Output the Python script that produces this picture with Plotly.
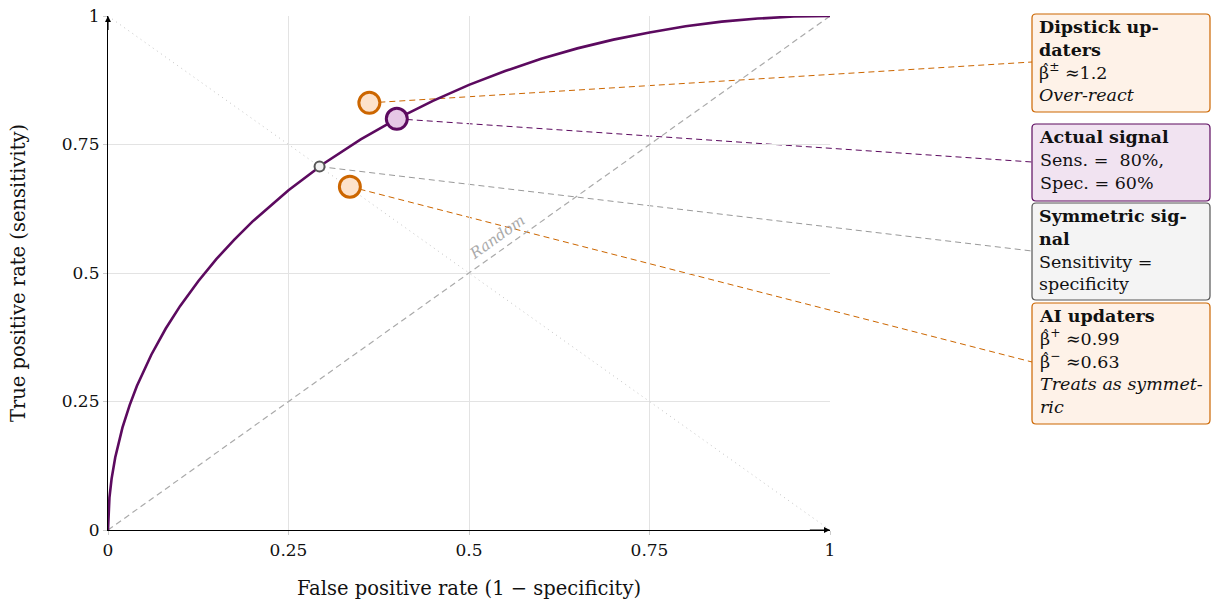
import plotly.graph_objects as go

# ---------------- data ----------------
roc_fpr = [0, 0.002, 0.005, 0.01, 0.02, 0.03, 0.04, 0.06, 0.08, 0.1, 0.125, 0.15, 0.175, 0.2, 0.25,
           0.3, 0.35, 0.4, 0.45, 0.5, 0.55, 0.6, 0.65, 0.7, 0.75, 0.8, 0.85, 0.9, 0.95, 1.0]
roc_tpr = [0, 0.063, 0.100, 0.141, 0.199, 0.243, 0.280, 0.341, 0.392, 0.436, 0.484, 0.527, 0.565, 0.600, 0.661,
           0.714, 0.760, 0.800, 0.835, 0.866, 0.893, 0.917, 0.937, 0.954, 0.968, 0.980, 0.989, 0.995, 0.999, 1.0]

point_names = ["Dipstick updaters", "Actual signal", "Symmetric signal", "AI updaters"]
point_fpr = [0.362, 0.40, 0.293, 0.335]
point_tpr = [0.831, 0.80, 0.707, 0.668]

tick_vals = [0, 0.25, 0.5, 0.75, 1]
tick_text = ["0", "0.25", "0.5", "0.75", "1"]

box_texts = [
    "<b>Dipstick up-</b><br><b>daters</b><br>β<sup>±</sup> ≈1.2<br><i>Over-react</i>",
    "<b>Actual signal</b><br>Sens. =  80%,<br>Spec. = 60%",
    "<b>Symmetric sig-</b><br><b>nal</b><br>Sensitivity =<br>specificity",
    "<b>AI updaters</b><br>β<sup>+</sup> ≈0.99<br>β<sup>−</sup> ≈0.63<br><i>Treats as symmet-</i><br><i>ric</i>",
]
# (box index, line index) of each estimated β that carries a hat
beta_hats = [(0, 2), (3, 1), (3, 2)]

# ---------------- styles ----------------
PURPLE = "#5c0a5f"
ORANGE = "#cc6600"
GRAY = "#555555"
FONT = "DejaVu Serif"
BOX_FS = 17.5
LINE_H = 1.3 * BOX_FS

marker_fill = ["#fde2cb", "#e6c8e6", "#f2f2f2", "#fde2cb"]
marker_line = [ORANGE, PURPLE, GRAY, ORANGE]
marker_size = [21, 21, 10, 21]
marker_lw = [3, 3, 2, 3]
conn_color = [ORANGE, PURPLE, "#999999", ORANGE]
box_fill = ["#fef2e8", "#f1e3f1", "#f4f4f4", "#fef2e8"]
box_line = [ORANGE, PURPLE, GRAY, ORANGE]

# plot area pixels: x 108..830, y 16..530
L, R, T, B = 108, 830, 16, 530
W, H = R - L, B - T


def px2x(p):
    return (p - L) / W


def px2y(p):
    return (B - p) / H


box_px = [(14, 112), (124, 201), (203, 300), (303, 424)]
conn_end_py = [62, 162, 251, 362]
bx0, bx1 = px2x(1032), px2x(1210)
text_top_off = 1

fig = go.Figure()

# diagonal (random) and anti-diagonal
fig.add_trace(go.Scatter(x=[0, 1], y=[0, 1], mode="lines",
                         line=dict(color="#aaaaaa", width=1.2, dash="6px,4px"),
                         hoverinfo="skip", showlegend=False))
fig.add_trace(go.Scatter(x=[0, 1], y=[1, 0], mode="lines",
                         line=dict(color="#c4c4c4", width=1, dash="1px,4px"),
                         hoverinfo="skip", showlegend=False))

# ROC curve
fig.add_trace(go.Scatter(x=roc_fpr, y=roc_tpr, mode="lines",
                         line=dict(color=PURPLE, width=2.6),
                         hoverinfo="skip", showlegend=False))

shapes = []
annotations = []

# connectors + boxes
for i in range(4):
    shapes.append(dict(type="line", xref="paper", yref="paper",
                       x0=point_fpr[i], y0=point_tpr[i], x1=bx0, y1=px2y(conn_end_py[i]),
                       line=dict(color=conn_color[i], width=1, dash="6px,4px"), layer="below"))
    t, b = box_px[i]
    x0, x1, y0, y1 = bx0, bx1, px2y(b), px2y(t)
    rx, ry = 4 / W, 4 / H
    path = (f"M {x0+rx},{y0} L {x1-rx},{y0} Q {x1},{y0} {x1},{y0+ry} "
            f"L {x1},{y1-ry} Q {x1},{y1} {x1-rx},{y1} L {x0+rx},{y1} Q {x0},{y1} {x0},{y1-ry} "
            f"L {x0},{y0+ry} Q {x0},{y0} {x0+rx},{y0} Z")
    shapes.append(dict(type="path", xref="paper", yref="paper", path=path,
                       fillcolor=box_fill[i], line=dict(color=box_line[i], width=1.2), layer="above"))
    annotations.append(dict(xref="paper", yref="paper", x=px2x(1037), y=px2y(t + text_top_off),
                            xanchor="left", yanchor="top", align="left", showarrow=False,
                            text=box_texts[i], font=dict(family=FONT, size=BOX_FS, color="#111111")))

# hats over the estimated betas
for bi, li in beta_hats:
    t = box_px[bi][0]
    line_center = t + text_top_off + 3 + LINE_H * (li + 0.5)
    annotations.append(dict(xref="paper", yref="paper", x=px2x(1046), y=px2y(line_center - 5),
                            xanchor="center", yanchor="middle", showarrow=False, text="ˆ",
                            font=dict(family=FONT, size=15, color="#111111")))

# points
fig.add_trace(go.Scatter(x=point_fpr, y=point_tpr, mode="markers", text=point_names,
                         marker=dict(size=marker_size, color=marker_fill, opacity=1,
                                     line=dict(color=marker_line, width=marker_lw)),
                         showlegend=False, cliponaxis=False))

# Random label
annotations.append(dict(xref="x", yref="y", x=0.539, y=0.57, text="<i>Random</i>", showarrow=False,
                        textangle=-35.4, font=dict(family=FONT, size=15, color="#aaaaaa")))

# axis arrows
annotations.append(dict(xref="x", yref="y", axref="x", ayref="y", x=0, y=1, ax=0, ay=0.97,
                        showarrow=True, arrowhead=2, arrowsize=1, arrowwidth=1.2, arrowcolor="black", text=""))
annotations.append(dict(xref="x", yref="y", axref="x", ayref="y", x=1, y=0, ax=0.97, ay=0,
                        showarrow=True, arrowhead=2, arrowsize=1, arrowwidth=1.2, arrowcolor="black", text=""))

axis_common = dict(range=[0, 1], tickvals=tick_vals, ticktext=tick_text, showgrid=True,
                   gridcolor="#e3e3e3", gridwidth=1, zeroline=False, showline=True,
                   linecolor="black", linewidth=1.2, ticks="outside", ticklen=4, tickcolor="#cccccc",
                   tickfont=dict(family=FONT, size=17, color="#111111"), automargin=False)

fig.update_layout(
    width=1211, height=609,
    margin=dict(l=L, r=1211 - R, t=T, b=609 - B),
    plot_bgcolor="white", paper_bgcolor="white",
    xaxis=dict(**axis_common, title=dict(text="False positive rate (1 − specificity)",
                                         font=dict(family=FONT, size=19.5, color="#111111"), standoff=22)),
    yaxis=dict(**axis_common, title=dict(text="True positive rate (sensitivity)",
                                         font=dict(family=FONT, size=19.5, color="#111111"), standoff=30)),
    shapes=shapes, annotations=annotations,
)

fig.write_html("out.html")
